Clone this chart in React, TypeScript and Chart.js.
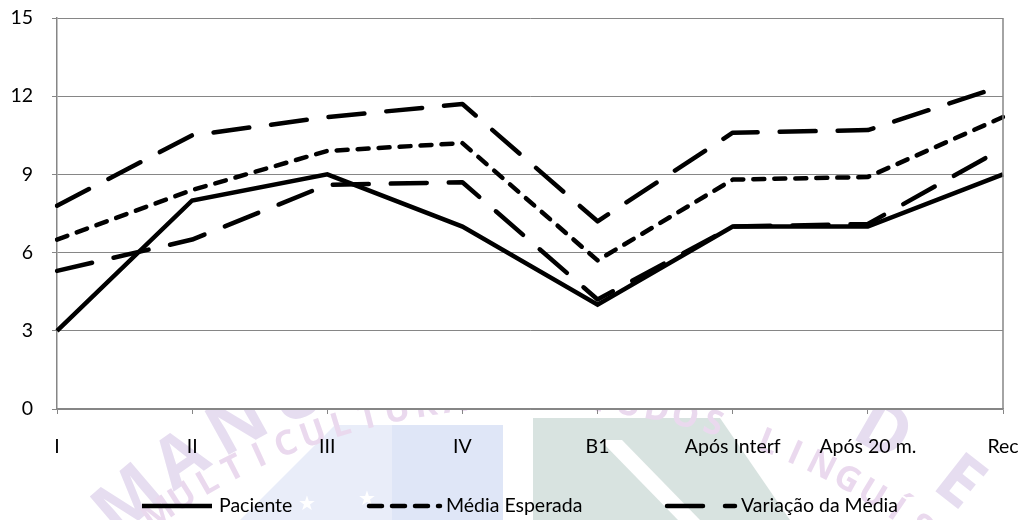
import { useEffect, useRef } from "react";
import { Chart, registerables } from "chart.js";

Chart.register(...registerables);

// Categories (stages of the assessment)
const categories = ["I", "II", "III", "IV", "B1", "Após Interf", "Após 20 m.", "Rec"];

// Series values
const paciente = [3, 8, 9, 7, 4, 7, 7, 9];
const mediaEsperada = [6.5, 8.4, 9.9, 10.2, 5.7, 8.8, 8.9, 11.2];
const variacaoSuperior = [7.8, 10.5, 11.2, 11.7, 7.2, 10.6, 10.7, 12.4];
const variacaoInferior = [5.3, 6.5, 8.6, 8.7, 4.2, 7.0, 7.1, 10.0];

// Y axis range / step
const yMin = 0;
const yMax = 15;
const yStep = 3;

const FONT = "Lato, 'Open Sans', sans-serif";
const FONT_SIZE = 19.5;
const AXIS_GRAY = "#868686";

const DASH_MEDIA = [11, 10];
const DASH_VARIACAO = [36, 22];

function drawArcText(
  ctx: CanvasRenderingContext2D,
  text: string,
  cx: number,
  cy: number,
  r: number,
  startDeg: number,
  stepDeg: number,
  font: string,
  color: string
) {
  ctx.save();
  ctx.font = font;
  ctx.fillStyle = color;
  ctx.textAlign = "center";
  ctx.textBaseline = "middle";
  for (let i = 0; i < text.length; i++) {
    const a = ((startDeg + i * stepDeg) * Math.PI) / 180;
    const x = cx + r * Math.sin(a);
    const y = cy - r * Math.cos(a);
    ctx.save();
    ctx.translate(x, y);
    ctx.rotate(a);
    ctx.fillText(text[i], 0, 0);
    ctx.restore();
  }
  ctx.restore();
}

// Faint seal printed behind the chart, hidden by the white plot area
const backdropPlugin = {
  id: "backdrop",
  beforeDraw(chart: any) {
    const { ctx, chartArea, width, height } = chart;
    ctx.save();
    ctx.fillStyle = "#ffffff";
    ctx.fillRect(0, 0, width, height);

    // light blue panel
    ctx.fillStyle = "#e9edf9";
    ctx.beginPath();
    ctx.moveTo(335, 425);
    ctx.lineTo(392, 425);
    ctx.lineTo(392, 520);
    ctx.lineTo(240, 520);
    ctx.closePath();
    ctx.fill();
    ctx.fillStyle = "#dfe6f7";
    ctx.fillRect(392, 425, 111, 95);

    // grey-green panel with a white diagonal band
    ctx.fillStyle = "#d8e3e0";
    ctx.beginPath();
    ctx.moveTo(533, 418);
    ctx.lineTo(720, 418);
    ctx.lineTo(790, 520);
    ctx.lineTo(533, 520);
    ctx.closePath();
    ctx.fill();
    ctx.fillStyle = "#ffffff";
    ctx.beginPath();
    ctx.moveTo(600, 440);
    ctx.lineTo(622, 440);
    ctx.lineTo(700, 520);
    ctx.lineTo(678, 520);
    ctx.closePath();
    ctx.fill();

    // stars
    ctx.fillStyle = "#ffffff";
    ctx.font = `20px 'DejaVu Sans'`;
    ctx.textAlign = "center";
    ctx.textBaseline = "middle";
    ctx.fillText("★", 307, 505);
    ctx.fillText("★", 367, 500);

    // lettering along the seal
    drawArcText(ctx, "MANUAL", 555, 1000, 655, -40.5, 5.8, `bold 70px 'Open Sans'`, "#e6ddf0");
    drawArcText(ctx, "DE", 555, 1000, 655, 30, 8, `bold 70px 'Open Sans'`, "#e6ddf0");
    drawArcText(ctx, "MULTICULTURAL", 530, 1050, 652, -34.7, 2.55, `bold 34px 'Open Sans'`, "#ead9ee");
    drawArcText(ctx, "ESTUDOS LINGUÍSTICOS", 530, 1050, 652, 1.0, 2.55, `bold 34px 'Open Sans'`, "#ead9ee");

    // opaque plot area
    ctx.fillStyle = "#ffffff";
    ctx.fillRect(chartArea.left, chartArea.top, chartArea.right - chartArea.left, chartArea.bottom - chartArea.top);
    ctx.restore();
  },
  afterDraw(chart: any) {
    const { ctx, chartArea } = chart;
    ctx.save();
    // right border of the plot area
    ctx.strokeStyle = AXIS_GRAY;
    ctx.lineWidth = 1.5;
    ctx.beginPath();
    ctx.moveTo(chartArea.right, chartArea.top);
    ctx.lineTo(chartArea.right, chartArea.bottom);
    ctx.stroke();

    // legend
    const ly = 506;
    const items = [
      { x0: 142, x1: 212, tx: 219, text: "Paciente", dash: [] as number[], cap: "butt" },
      { x0: 369, x1: 440, tx: 446, text: "Média Esperada", dash: [13, 10], cap: "round" },
      { x0: 667, x1: 735, tx: 741, text: "Variação da Média", dash: DASH_VARIACAO, cap: "round" },
    ];
    for (const it of items) {
      ctx.save();
      ctx.strokeStyle = "#000";
      ctx.lineWidth = 4.5;
      ctx.lineCap = it.cap as CanvasLineCap;
      ctx.setLineDash(it.dash);
      ctx.beginPath();
      ctx.moveTo(it.x0, ly);
      ctx.lineTo(it.x1, ly);
      ctx.stroke();
      ctx.restore();
      ctx.fillStyle = "#000";
      ctx.font = `${FONT_SIZE}px ${FONT}`;
      ctx.textAlign = "left";
      ctx.textBaseline = "middle";
      ctx.fillText(it.text, it.tx, ly);
    }
    ctx.restore();
  },
};

export default function App() {
  const canvasRef = useRef<HTMLCanvasElement | null>(null);

  useEffect(() => {
    if (!canvasRef.current) return;
    const lineBase = {
      borderColor: "#000000",
      backgroundColor: "#000000",
      borderWidth: 4.5,
      pointRadius: 0,
      pointHoverRadius: 0,
      tension: 0,
      fill: false,
    };
    const chart = new Chart(canvasRef.current, {
      type: "line",
      data: {
        labels: categories,
        datasets: [
          { ...lineBase, label: "Variação da Média", data: variacaoSuperior, borderDash: DASH_VARIACAO, borderCapStyle: "round", borderJoinStyle: "round" },
          { ...lineBase, label: "Variação da Média (inferior)", data: variacaoInferior, borderDash: DASH_VARIACAO, borderCapStyle: "round", borderJoinStyle: "round" },
          { ...lineBase, label: "Média Esperada", data: mediaEsperada, borderDash: DASH_MEDIA, borderCapStyle: "round", borderJoinStyle: "round" },
          { ...lineBase, label: "Paciente", data: paciente, borderJoinStyle: "miter" },
        ],
      },
      options: {
        responsive: false,
        animation: false,
        events: [],
        layout: { padding: { top: 18, right: 20, left: 0, bottom: 0 } },
        plugins: {
          legend: { display: false },
          tooltip: { enabled: false },
        },
        scales: {
          x: {
            type: "category",
            offset: false,
            afterFit: (scale: any) => {
              scale.height = 111;
              scale.paddingLeft = 0;
              scale.paddingRight = 0;
              scale.paddingTop = 0;
              scale.paddingBottom = 0;
            },
            grid: {
              display: true,
              drawOnChartArea: false,
              drawTicks: true,
              tickLength: 5,
              color: AXIS_GRAY,
              lineWidth: 1,
            },
            border: { display: true, color: AXIS_GRAY, width: 1.5 },
            ticks: {
              autoSkip: false,
              maxRotation: 0,
              minRotation: 0,
              padding: 21,
              color: "#000",
              font: { family: FONT, size: FONT_SIZE },
            },
          },
          y: {
            min: yMin,
            max: yMax,
            afterFit: (scale: any) => {
              scale.width = 57;
              scale.paddingLeft = 0;
              scale.paddingRight = 0;
              scale.paddingTop = 0;
              scale.paddingBottom = 0;
            },
            grid: {
              color: AXIS_GRAY,
              lineWidth: 1,
              drawTicks: true,
              tickLength: 5,
            },
            border: { display: true, color: AXIS_GRAY, width: 1.5 },
            ticks: {
              stepSize: yStep,
              padding: 19,
              color: "#000",
              font: { family: FONT, size: FONT_SIZE },
            },
          },
        },
      },
      plugins: [backdropPlugin],
    } as any);
    return () => chart.destroy();
  }, []);

  return (
    <div style={{ position: "absolute", left: 0, top: 0, width: 1023, height: 520 }}>
      <canvas ref={canvasRef} width={1023} height={520} style={{ display: "block" }} />
    </div>
  );
}
